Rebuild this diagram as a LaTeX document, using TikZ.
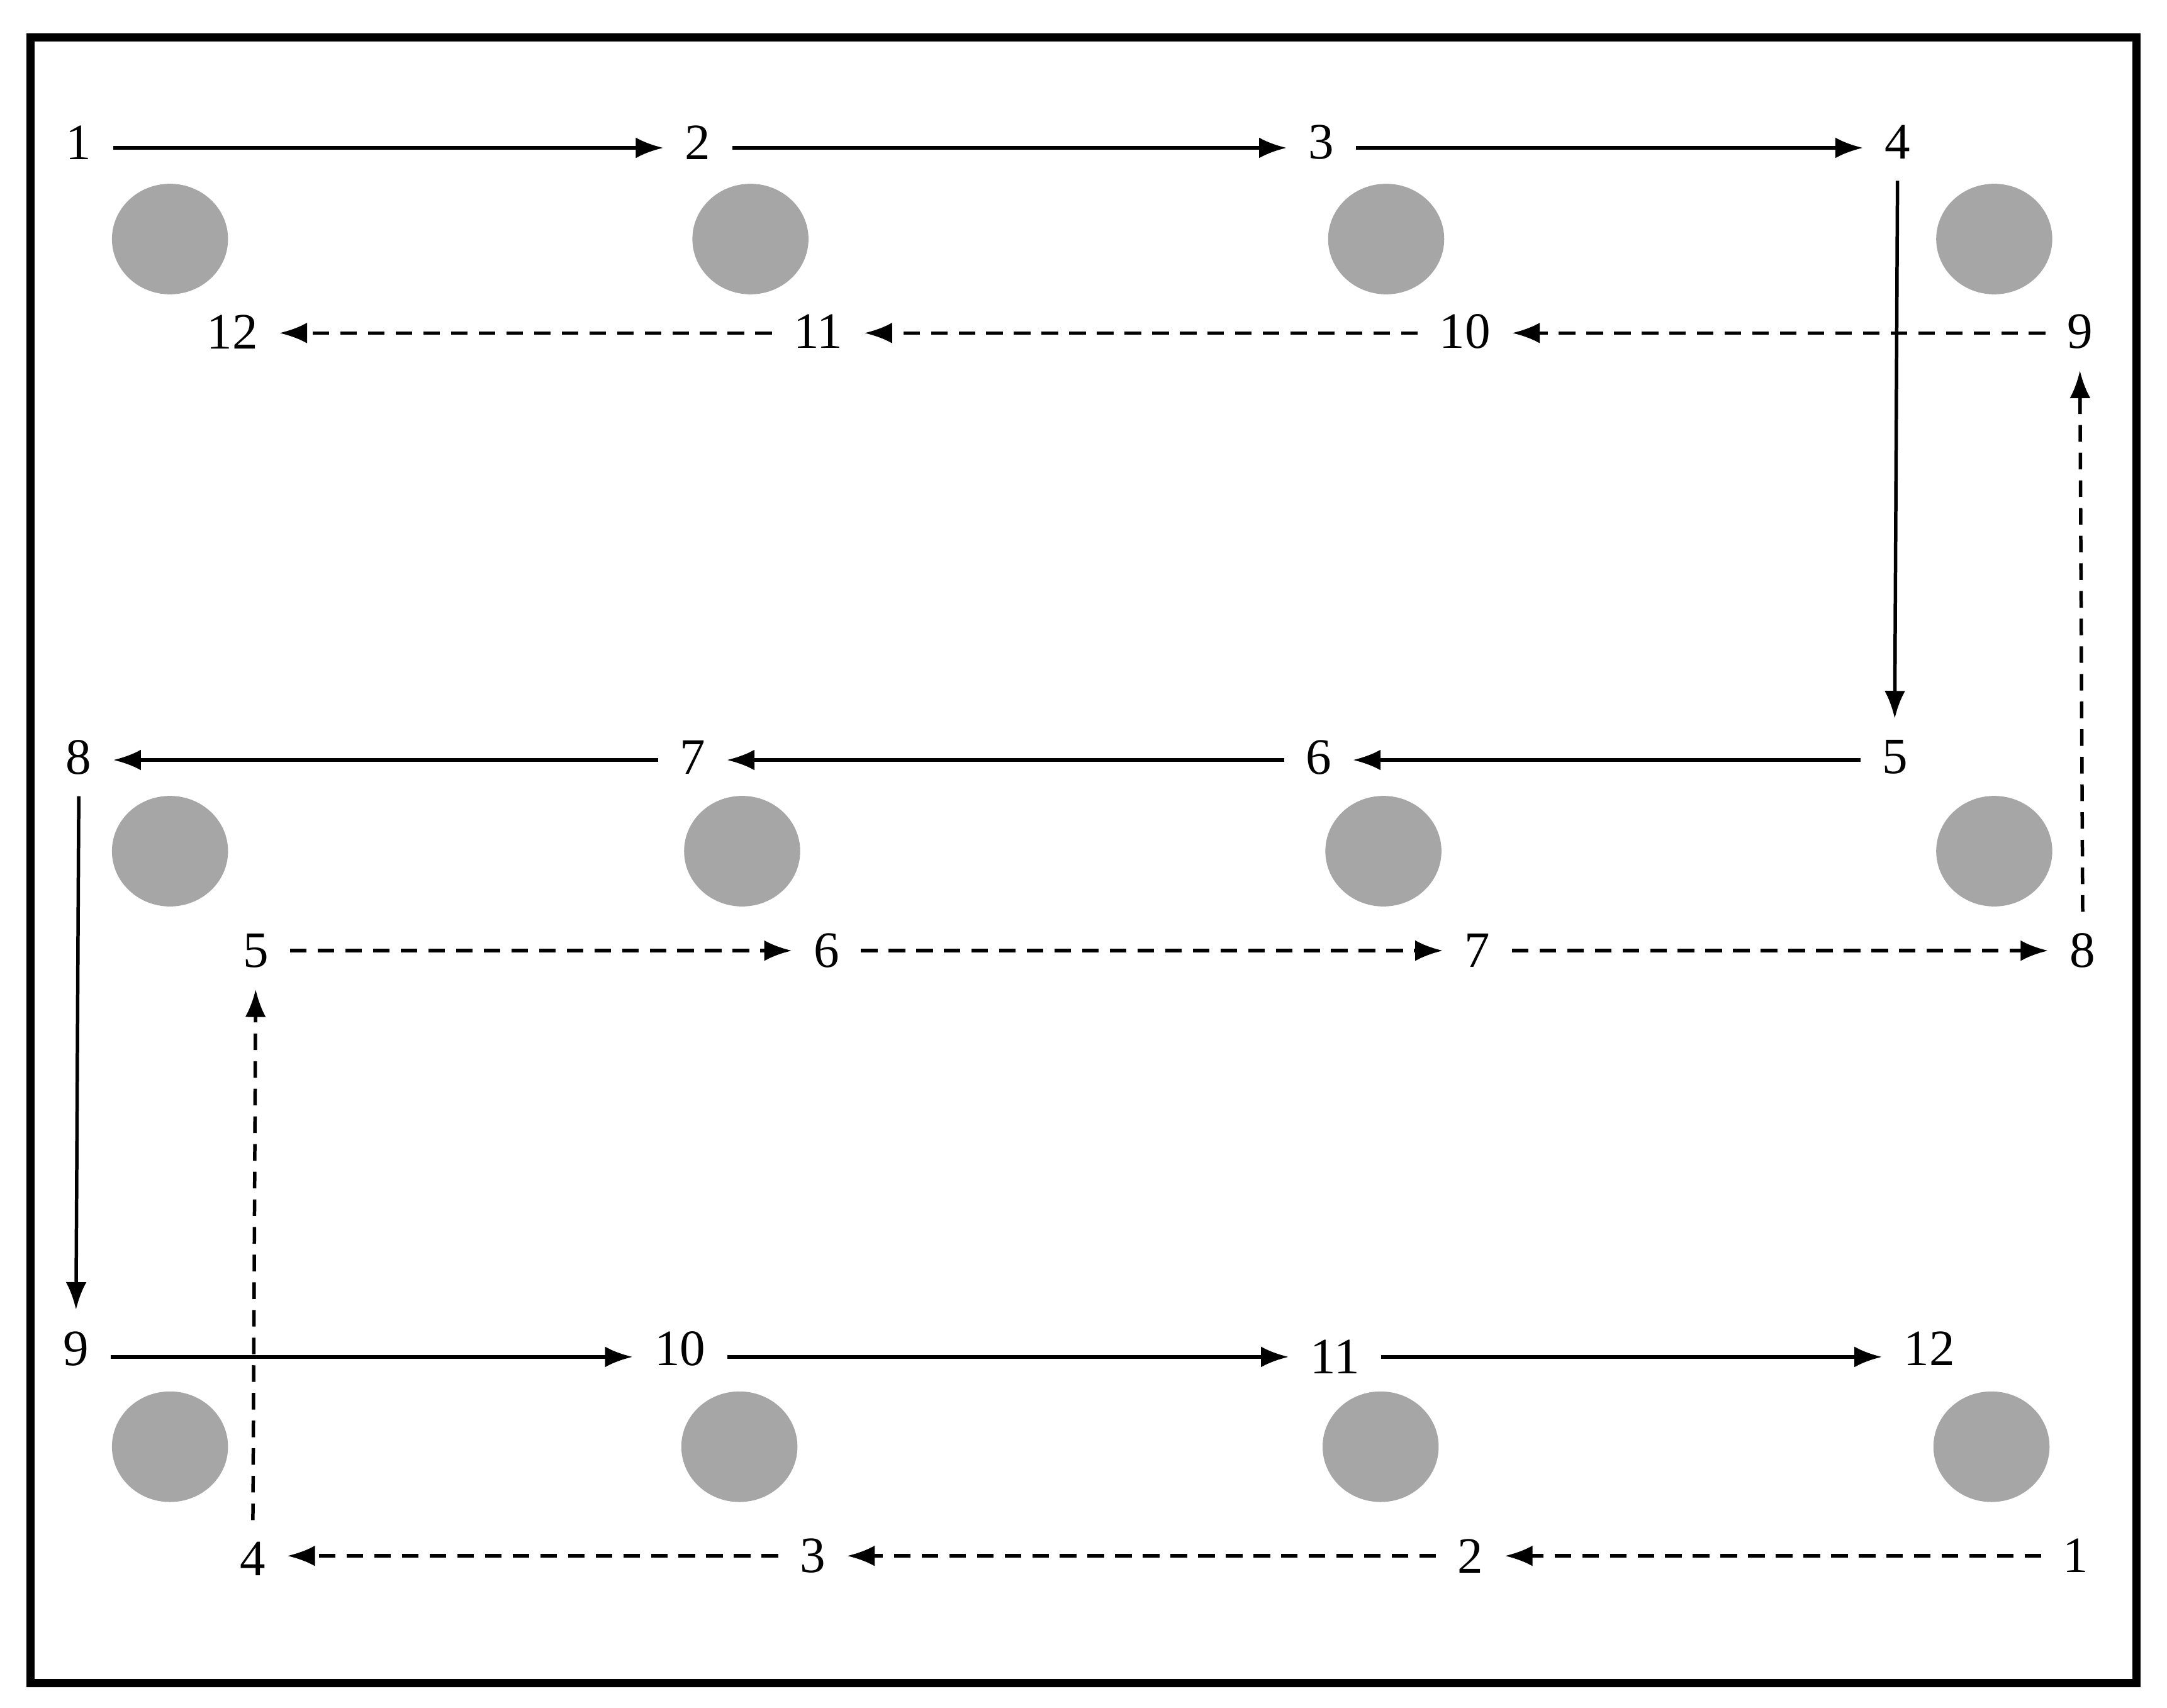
\documentclass[tikz,border=0pt]{standalone}
\usepackage{fontspec}
\setmainfont{Liberation Serif}
\usetikzlibrary{arrows.meta}
\definecolor{dotgray}{HTML}{A6A6A6}
\begin{document}
\begin{tikzpicture}[x=0.01cm,y=-0.01cm,
  lbl/.style={inner sep=0.15cm,font=\fontsize{10.5}{12}\selectfont},
  dot/.style={fill=dotgray,draw=none},
  arr/.style={line width=0.025cm,-{Latex[length=0.2cm,width=0.15cm]}},
  darr/.style={arr,dash pattern=on 0.12cm off 0.08cm}]
\useasboundingbox (0,0) rectangle (1568,1236);
\draw[line width=0.06cm] (22,27) rectangle (1546,1218);
\foreach \x/\y in {123/173,543/173,1003/173,1443/173,123/616,537/616,1001/616,1443/616,123/1047,535/1047,999/1047,1441/1047}
  \fill[dot] (\x,\y) ellipse (42 and 40);
% solid path
\node[lbl] (s1) at (57,103) {1};
\node[lbl] (s2) at (505,103) {2};
\node[lbl] (s3) at (956,103) {3};
\node[lbl] (s4) at (1373,103) {4};
\node[lbl] (s5) at (1371,548) {5};
\node[lbl] (s6) at (954,548) {6};
\node[lbl] (s7) at (501,548) {7};
\node[lbl] (s8) at (57,548) {8};
\node[lbl] (s9) at (55,976) {9};
\node[lbl] (s10) at (492,976) {10};
\node[lbl] (s11) at (966,982) {11};
\node[lbl] (s12) at (1396,976) {12};
\draw[arr] (s1.east |- 0,107) -- (s2.west |- 0,107);
\draw[arr] (s2.east |- 0,107) -- (s3.west |- 0,107);
\draw[arr] (s3.east |- 0,107) -- (s4.west |- 0,107);
\draw[arr] (s4.south) -- (s5.north);
\draw[arr] (s5.west |- 0,550) -- (s6.east |- 0,550);
\draw[arr] (s6.west |- 0,550) -- (s7.east |- 0,550);
\draw[arr] (s7.west |- 0,550) -- (s8.east |- 0,550);
\draw[arr] (s8.south) -- (s9.north);
\draw[arr] (s9.east |- 0,982) -- (s10.west |- 0,982);
\draw[arr] (s10.east |- 0,982) -- (s11.west |- 0,982);
\draw[arr] (s11.east |- 0,982) -- (s12.west |- 0,982);
% dashed path
\node[lbl] (d1) at (1502,1126) {1};
\node[lbl] (d2) at (1064,1126) {2};
\node[lbl] (d3) at (588,1126) {3};
\node[lbl] (d4) at (183,1128) {4};
\node[lbl] (d5) at (185,688) {5};
\node[lbl] (d6) at (598,688) {6};
\node[lbl] (d7) at (1069,688) {7};
\node[lbl] (d8) at (1507,688) {8};
\node[lbl] (d9) at (1505,240) {9};
\node[lbl] (d10) at (1060,240) {10};
\node[lbl] (d11) at (592,240) {11};
\node[lbl] (d12) at (168,240) {12};
\draw[darr] (d1.west |- 0,1126) -- (d2.east |- 0,1126);
\draw[darr] (d2.west |- 0,1126) -- (d3.east |- 0,1126);
\draw[darr] (d3.west |- 0,1126) -- (d4.east |- 0,1126);
\draw[darr] (d4.north) -- (d5.south);
\draw[darr] (d5.east |- 0,688) -- (d6.west |- 0,688);
\draw[darr] (d6.east |- 0,688) -- (d7.west |- 0,688);
\draw[darr] (d7.east |- 0,688) -- (d8.west |- 0,688);
\draw[darr] (d8.north) -- (d9.south);
\draw[darr] (d9.west |- 0,241) -- (d10.east |- 0,241);
\draw[darr] (d10.west |- 0,241) -- (d11.east |- 0,241);
\draw[darr] (d11.west |- 0,241) -- (d12.east |- 0,241);
\end{tikzpicture}
\end{document}
